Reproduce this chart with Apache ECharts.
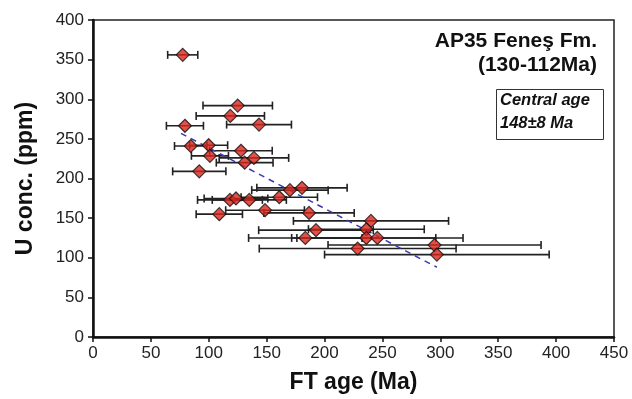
<!DOCTYPE html>
<html>
<head>
<meta charset="utf-8">
<script src="https://cdn.jsdelivr.net/npm/echarts@6/dist/echarts.min.js"></script>
<style>html,body{margin:0;padding:0;background:#fff;}#c{width:632px;height:399px;}</style>
</head>
<body>
<div id="c"></div>
<script>
// FT age (Ma) of single grains
const ages   = [77.5, 125, 118.6, 79.4, 143.4, 84.4, 99.9, 127.8, 101, 139, 131, 91.8,
                170.1, 180.5, 118.3, 123.5, 135, 160.9, 109.1, 148.6, 186.6, 240.1,
                192.6, 236.1, 183.4, 236.1, 245.6, 228.6, 295, 297];
// U concentration (ppm)
const uConc  = [356, 292, 279, 266.5, 268, 241, 242, 235, 228.6, 226, 220, 209,
                185.3, 188.2, 173, 174.8, 173, 176.4, 155, 160, 156.6, 146.5,
                134.8, 136, 125, 125, 125, 111.6, 116, 104];
// age error (+/- Ma)
const ageErr = [13, 30, 29.5, 16, 28, 14, 16.4, 27, 16, 30, 24.5, 23,
                33, 39, 28, 27.5, 32, 33, 20, 34, 39, 67,
                49.5, 50, 49, 60, 74, 85, 92, 97];
// trend line end points
const trendX = [76, 297];
const trendY = [257, 88];
const xTicks = [0, 50, 100, 150, 200, 250, 300, 350, 400, 450];
const yTicks = [0, 50, 100, 150, 200, 250, 300, 350, 400];

const FONT = 'Liberation Sans, Arial, Helvetica, sans-serif';
const chart = echarts.init(document.getElementById('c'));

const errData = ages.map((a, i) => [a, uConc[i], ageErr[i]]);
const ptData = ages.map((a, i) => [a, uConc[i]]);
const trendData = trendX.map((x, i) => [x, trendY[i]]);

chart.setOption({
  animation: false,
  backgroundColor: '#fff',
  grid: { left: 93, right: 18, top: 20, bottom: 62, show: true, borderColor: '#222', borderWidth: 1.5 },
  xAxis: {
    type: 'value', min: xTicks[0], max: xTicks[xTicks.length - 1], interval: 50,
    name: 'FT age (Ma)', nameLocation: 'middle', nameGap: 34,
    nameTextStyle: { fontFamily: FONT, fontSize: 23, fontWeight: 'bold', color: '#111' },
    axisLine: { lineStyle: { color: '#111', width: 2.5 } },
    axisTick: { show: true, length: 5, lineStyle: { color: '#111', width: 1.5 } },
    axisLabel: { fontFamily: FONT, fontSize: 17, color: '#222', margin: 8 },
    splitLine: { show: false }
  },
  yAxis: {
    type: 'value', min: yTicks[0], max: yTicks[yTicks.length - 1], interval: 50,
    name: 'U conc. (ppm)', nameLocation: 'middle', nameGap: 56, nameRotate: 90,
    nameTextStyle: { fontFamily: FONT, fontSize: 23, fontWeight: 'bold', color: '#111' },
    axisLine: { show: true, lineStyle: { color: '#111', width: 2.5 } },
    axisTick: { show: true, length: 5, lineStyle: { color: '#111', width: 1.5 } },
    axisLabel: { fontFamily: FONT, fontSize: 17, color: '#222', margin: 9 },
    splitLine: { show: false }
  },
  series: [
    {
      type: 'custom',
      data: errData,
      z: 2,
      renderItem: function (params, api) {
        const x = api.value(0), y = api.value(1), e = api.value(2);
        const p0 = api.coord([x - e, y]);
        const p1 = api.coord([x + e, y]);
        const h = 4;
        const st = { stroke: '#222', lineWidth: 1.6 };
        return {
          type: 'group',
          children: [
            { type: 'line', shape: { x1: p0[0], y1: p0[1], x2: p1[0], y2: p1[1] }, style: st },
            { type: 'line', shape: { x1: p0[0], y1: p0[1] - h, x2: p0[0], y2: p0[1] + h }, style: st },
            { type: 'line', shape: { x1: p1[0], y1: p1[1] - h, x2: p1[0], y2: p1[1] + h }, style: st }
          ]
        };
      }
    },
    {
      type: 'line',
      data: trendData,
      showSymbol: false,
      z: 3,
      lineStyle: { color: '#3b3bb0', width: 1.5, type: [6, 5] }
    },
    {
      type: 'scatter',
      data: ptData,
      symbol: 'diamond',
      symbolSize: [13, 13],
      z: 4,
      itemStyle: { color: '#d9261b', borderColor: '#111', borderWidth: 1.2 }
    }
  ],
  graphic: [
    { type: 'text', right: 35, top: 31, style: { text: 'AP35 Feneş Fm.', font: 'bold 21px ' + FONT, fill: '#111', textAlign: 'right' } },
    { type: 'text', right: 35, top: 55, style: { text: '(130-112Ma)', font: 'bold 21px ' + FONT, fill: '#111', textAlign: 'right' } },
    { type: 'rect', left: 496, top: 89, shape: { width: 107, height: 50 }, style: { fill: '#fff', stroke: '#333', lineWidth: 1 } },
    { type: 'text', left: 500, top: 92, style: { text: 'Central age', font: 'italic bold 16.5px ' + FONT, fill: '#111' } },
    { type: 'text', left: 500, top: 115, style: { text: '148±8 Ma', font: 'italic bold 16.5px ' + FONT, fill: '#111' } }
  ]
});
</script>
</body>
</html>
